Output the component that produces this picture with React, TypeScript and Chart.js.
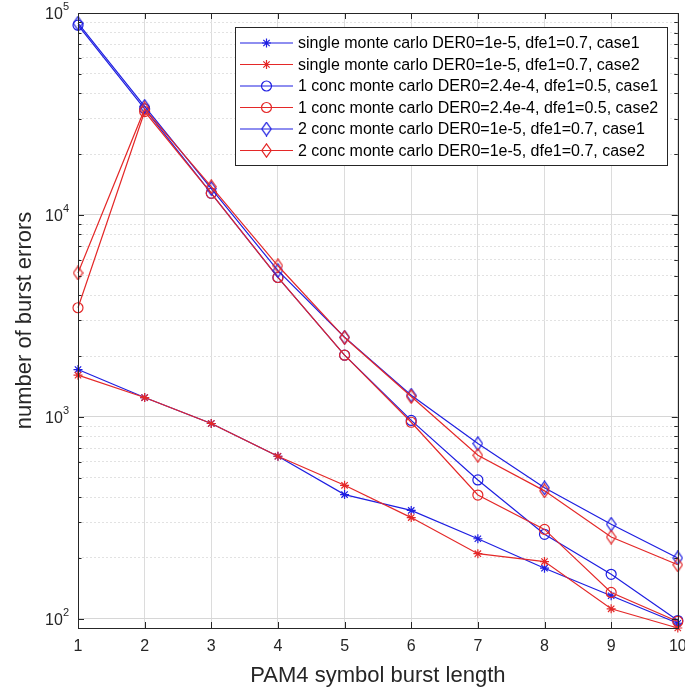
import React, { useEffect, useRef } from 'react';
import { Chart, registerables } from 'chart.js';

Chart.register(...registerables);

// ---------- data ----------
const burstLengths = [1, 2, 3, 4, 5, 6, 7, 8, 9, 10];

const singleCase1 = [1715, 1246, 927, 638, 412, 344, 249, 178, 130, 95];
const singleCase2 = [1608, 1246, 927, 638, 458, 317, 210, 192, 112, 90];
const conc1Case1 = [87000, 33500, 12800, 4900, 2020, 960, 487, 262, 166, 98];
const conc1Case2 = [3470, 32500, 12800, 4900, 2020, 940, 410, 277, 135, 97];
const conc2Case1 = [89000, 34500, 13500, 5300, 2480, 1280, 737, 445, 294, 200];
const conc2Case2 = [5160, 33500, 13800, 5600, 2470, 1260, 645, 430, 254, 185];

const seriesLabels = [
  'single monte carlo DER0=1e-5, dfe1=0.7, case1',
  'single monte carlo DER0=1e-5, dfe1=0.7, case2',
  '1 conc monte carlo DER0=2.4e-4, dfe1=0.5, case1',
  '1 conc monte carlo DER0=2.4e-4, dfe1=0.5, case2',
  '2 conc monte carlo DER0=1e-5, dfe1=0.7, case1',
  '2 conc monte carlo DER0=1e-5, dfe1=0.7, case2',
];

const xTickLabels = ['1', '2', '3', '4', '5', '6', '7', '8', '9', '10'];
const yDecadeValues = [100, 1000, 10000, 100000];
const yDecadeExponents = ['2', '3', '4', '5'];
const yGridValues = [
  100, 200, 300, 400, 500, 600, 700, 800, 900,
  1000, 2000, 3000, 4000, 5000, 6000, 7000, 8000, 9000,
  10000, 20000, 30000, 40000, 50000, 60000, 70000, 80000, 90000,
  100000,
];
const yMin = 90;
const yMax = 100000;
const xTitle = 'PAM4 symbol burst length';
const yTitle = 'number of burst errors';

// ---------- styling ----------
const W = 685;
const H = 693;
const AREA = { left: 78, top: 13, right: 681, bottom: 628 };
const BLUE = 'rgb(30,30,225)';
const RED = 'rgb(228,40,40)';
const AXIS = '#262626';
const FONT = '"Liberation Sans", Arial, sans-serif';

function makeDiamond(color: string): HTMLCanvasElement {
  const c = document.createElement('canvas');
  c.width = 11;
  c.height = 15;
  const g = c.getContext('2d')!;
  g.strokeStyle = color;
  g.lineWidth = 1.2;
  g.beginPath();
  g.moveTo(5.5, 0.8);
  g.lineTo(10.2, 7.5);
  g.lineTo(5.5, 14.2);
  g.lineTo(0.8, 7.5);
  g.closePath();
  g.stroke();
  return c;
}

const seriesValues = [singleCase1, singleCase2, conc1Case1, conc1Case2, conc2Case1, conc2Case2];
const seriesColors = [BLUE, RED, BLUE, RED, BLUE, RED];
const seriesMarkers = ['star', 'star', 'circle', 'circle', 'diamond', 'diamond'];
const markerRadius: Record<string, number> = { star: 4.5, circle: 5, diamond: 6 };

function drawMarker(ctx: CanvasRenderingContext2D, kind: string, color: string, x: number, y: number, diamond: HTMLCanvasElement) {
  ctx.save();
  ctx.strokeStyle = color;
  ctx.lineWidth = 1.2;
  if (kind === 'star') {
    const r = markerRadius.star;
    const d = r * Math.SQRT1_2;
    ctx.beginPath();
    ctx.moveTo(x - r, y); ctx.lineTo(x + r, y);
    ctx.moveTo(x, y - r); ctx.lineTo(x, y + r);
    ctx.moveTo(x - d, y - d); ctx.lineTo(x + d, y + d);
    ctx.moveTo(x - d, y + d); ctx.lineTo(x + d, y - d);
    ctx.stroke();
  } else if (kind === 'circle') {
    ctx.beginPath();
    ctx.arc(x, y, markerRadius.circle, 0, Math.PI * 2);
    ctx.stroke();
  } else {
    ctx.drawImage(diamond, x - diamond.width / 2, y - diamond.height / 2);
  }
  ctx.restore();
}

export default function App() {
  const canvasRef = useRef<HTMLCanvasElement | null>(null);

  useEffect(() => {
    const canvas = canvasRef.current;
    if (!canvas) return;
    const diamondBlue = makeDiamond(BLUE);
    const diamondRed = makeDiamond(RED);

    const datasets = seriesValues.map((vals, i) => {
      const color = seriesColors[i];
      const kind = seriesMarkers[i];
      const style: any = kind === 'diamond' ? (color === BLUE ? diamondBlue : diamondRed) : kind;
      return {
        label: seriesLabels[i],
        data: burstLengths.map((x, j) => ({ x, y: vals[j] })),
        borderColor: color,
        backgroundColor: 'rgba(0,0,0,0)',
        borderWidth: 1.2,
        pointStyle: style,
        pointRadius: markerRadius[kind],
        pointBorderColor: color,
        pointBackgroundColor: 'rgba(0,0,0,0)',
        pointBorderWidth: 1.2,
        tension: 0,
        clip: false as any,
        order: seriesValues.length - i,
      };
    });

    const decor = {
      id: 'matlabDecor',
      afterDatasetsDraw(chart: any) {
        const ctx: CanvasRenderingContext2D = chart.ctx;
        const xs = chart.scales.x;
        const ys = chart.scales.y;
        const { left, right, top, bottom } = chart.chartArea;
        ctx.save();
        // box
        ctx.strokeStyle = AXIS;
        ctx.lineWidth = 1;
        ctx.strokeRect(Math.round(left) + 0.5, Math.round(top) + 0.5, Math.round(right - left), Math.round(bottom - top));
        // x ticks (inward, top & bottom)
        ctx.beginPath();
        burstLengths.forEach((v) => {
          const px = Math.round(xs.getPixelForValue(v)) + 0.5;
          ctx.moveTo(px, bottom); ctx.lineTo(px, bottom - 6);
          ctx.moveTo(px, top); ctx.lineTo(px, top + 6);
        });
        // y ticks
        yGridValues.forEach((v) => {
          const py = Math.round(ys.getPixelForValue(v)) + 0.5;
          const len = yDecadeValues.includes(v) ? 6 : 3.5;
          ctx.moveTo(left, py); ctx.lineTo(left + len, py);
          ctx.moveTo(right, py); ctx.lineTo(right - len, py);
        });
        ctx.stroke();
        // x tick labels
        ctx.fillStyle = AXIS;
        ctx.font = `16px ${FONT}`;
        ctx.textAlign = 'center';
        ctx.textBaseline = 'middle';
        burstLengths.forEach((v, i) => {
          ctx.fillText(xTickLabels[i], xs.getPixelForValue(v), bottom + 19);
        });
        // y tick labels 10^k
        yDecadeValues.forEach((v, i) => {
          const py = ys.getPixelForValue(v);
          ctx.font = `11px ${FONT}`;
          const wSup = ctx.measureText(yDecadeExponents[i]).width;
          ctx.font = `16px ${FONT}`;
          const wBase = ctx.measureText('10').width;
          const xEnd = left - 9;
          ctx.textAlign = 'left';
          ctx.fillText('10', xEnd - wSup - wBase, py + 2);
          ctx.font = `11px ${FONT}`;
          ctx.fillText(yDecadeExponents[i], xEnd - wSup, py - 6);
        });
        // axis titles
        ctx.font = `22px ${FONT}`;
        ctx.textAlign = 'center';
        ctx.fillText(xTitle, (left + right) / 2, bottom + 48);
        ctx.save();
        ctx.translate(25, (top + bottom) / 2);
        ctx.rotate(-Math.PI / 2);
        ctx.fillText(yTitle, 0, 0);
        ctx.restore();
        ctx.restore();
      },
      afterDraw(chart: any) {
        const ctx: CanvasRenderingContext2D = chart.ctx;
        const box = { l: 235, t: 27, r: 667, b: 165 };
        ctx.save();
        ctx.fillStyle = '#ffffff';
        ctx.fillRect(box.l, box.t, box.r - box.l, box.b - box.t);
        ctx.strokeStyle = AXIS;
        ctx.lineWidth = 1;
        ctx.strokeRect(box.l + 0.5, box.t + 0.5, box.r - box.l, box.b - box.t);
        // font sized so the longest entry fits the box
        ctx.font = `14px ${FONT}`;
        let maxW = 0;
        seriesLabels.forEach((s) => { maxW = Math.max(maxW, ctx.measureText(s).width); });
        const size = Math.max(12, Math.min(16, 14 * 362 / maxW));
        ctx.font = `${size.toFixed(2)}px ${FONT}`;
        ctx.textAlign = 'left';
        ctx.textBaseline = 'middle';
        seriesLabels.forEach((s, i) => {
          const y = 43 + i * 21.5;
          const color = seriesColors[i];
          ctx.strokeStyle = color;
          ctx.lineWidth = 1.2;
          ctx.beginPath();
          ctx.moveTo(240, y); ctx.lineTo(293, y);
          ctx.stroke();
          drawMarker(ctx, seriesMarkers[i], color, 266.5, y, color === BLUE ? diamondBlue : diamondRed);
          ctx.fillStyle = '#000000';
          ctx.fillText(s, 298, y + 1);
        });
        ctx.restore();
      },
    };

    const chart = new Chart(canvas, {
      type: 'line',
      data: { datasets: datasets as any },
      options: {
        responsive: false,
        animation: false,
        devicePixelRatio: 1,
        events: [],
        layout: { padding: { left: 0, top: AREA.top, right: W - AREA.right, bottom: 0 } },
        plugins: { legend: { display: false }, tooltip: { enabled: false }, title: { display: false } },
        scales: {
          x: {
            type: 'linear',
            min: 1,
            max: 10,
            ticks: { display: false, stepSize: 1 },
            grid: { color: '#dcdcdc', lineWidth: 1, drawTicks: false },
            border: { display: false },
            afterFit: (s: any) => { s.height = H - AREA.bottom; },
          },
          y: {
            type: 'logarithmic',
            min: yMin,
            max: yMax,
            ticks: { display: false },
            afterBuildTicks: (s: any) => {
              s.ticks = yGridValues.map((v) => ({ value: v, major: yDecadeValues.includes(v) }));
            },
            grid: {
              drawTicks: false,
              lineWidth: 1,
              color: (c: any) => (c.tick && c.tick.major ? '#d6d6d6' : '#e2e2e2'),
            },
            border: {
              display: false,
              dash: (c: any) => (c.tick && c.tick.major ? [] : [2, 2]),
            } as any,
            afterFit: (s: any) => { s.width = AREA.left; },
          },
        },
      },
      plugins: [decor],
    });

    return () => chart.destroy();
  }, []);

  return (
    <div style={{ position: 'fixed', left: 0, top: 0, width: W, height: H, overflow: 'hidden', background: '#fff' }}>
      <canvas ref={canvasRef} width={W} height={H} style={{ display: 'block' }} />
    </div>
  );
}
